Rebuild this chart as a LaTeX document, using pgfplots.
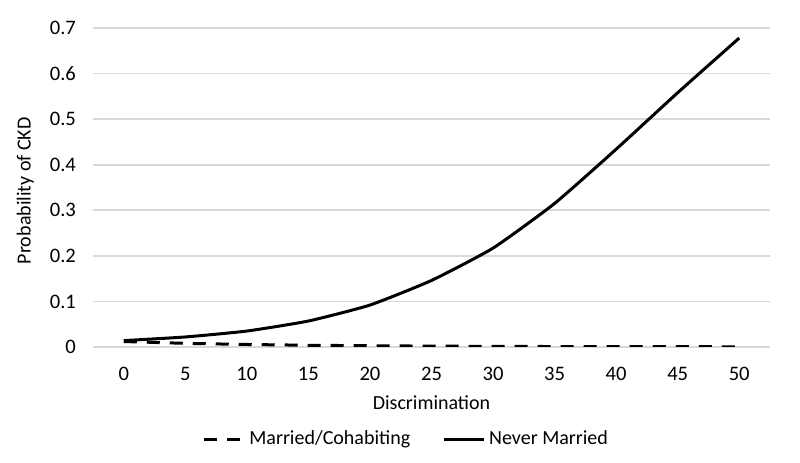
\documentclass[border=0pt]{standalone}
\usepackage{pgfplots}
\pgfplotsset{compat=1.18}
\usepackage{fontspec}
\setmainfont{Carlito}

\definecolor{gridgray}{HTML}{D9D9D9}

\begin{document}
\fontsize{10bp}{12bp}\selectfont
\begin{tikzpicture}
\begin{axis}[
  name=ax,
  scale only axis,
  width=338.5bp, height=159.5bp,
  xmin=-2.5, xmax=52.5,
  ymin=0, ymax=0.7,
  xtick={0,5,...,50},
  ytick={0,0.1,...,0.7},
  yticklabel style={/pgf/number format/fixed,/pgf/number format/precision=1},
  /pgf/number format/assume math mode=true,
  axis line style={draw=none},
  major tick length=0pt,
  ymajorgrids, grid style={gridgray, line width=0.8bp},
  tick label style={font=\fontsize{10.3bp}{12bp}\selectfont},
  yticklabel style={xshift=-5bp},
  xticklabel style={yshift=-6.5bp},
  xlabel={Discrimination},
  ylabel={Probability of CKD},
  label style={font=\fontsize{10bp}{12bp}\selectfont},
  xlabel style={at={(axis description cs:0.5,-0.175)}, anchor=center},
  ylabel style={at={(axis description cs:-0.1,0.49)}, anchor=center},
  legend columns=2,
  legend style={draw=none, at={(axis description cs:0.464,-0.29)}, anchor=center,
    font=\fontsize{10bp}{12bp}\selectfont,
    /tikz/every even column/.append style={column sep=14bp}},
  legend cell align=left,
  legend image code/.code={\draw[#1] (0bp,0bp) -- (20bp,0bp);},
]
\addplot[black, line width=1.5bp, dash pattern=on 6.5bp off 5bp] coordinates {
(0,0.012) (5,0.008) (10,0.0055) (15,0.0038) (20,0.0027) (25,0.0019)
(30,0.0014) (35,0.001) (40,0.0008) (45,0.0006) (50,0.0005)
};
\addlegendentry{Married/Cohabiting}
\addplot[black, line width=1.5bp, smooth, tension=0.3] coordinates {
(0,0.014) (5,0.022) (10,0.035) (15,0.057) (20,0.092) (25,0.146)
(30,0.217) (35,0.315) (40,0.434) (45,0.558) (50,0.678)
};
\addlegendentry{Never Married}
\end{axis}
\pgfresetboundingbox
\path ([xshift=-46.5bp,yshift=-58bp]ax.south west) rectangle ([xshift=15bp,yshift=14bp]ax.north east);
\end{tikzpicture}
\end{document}
